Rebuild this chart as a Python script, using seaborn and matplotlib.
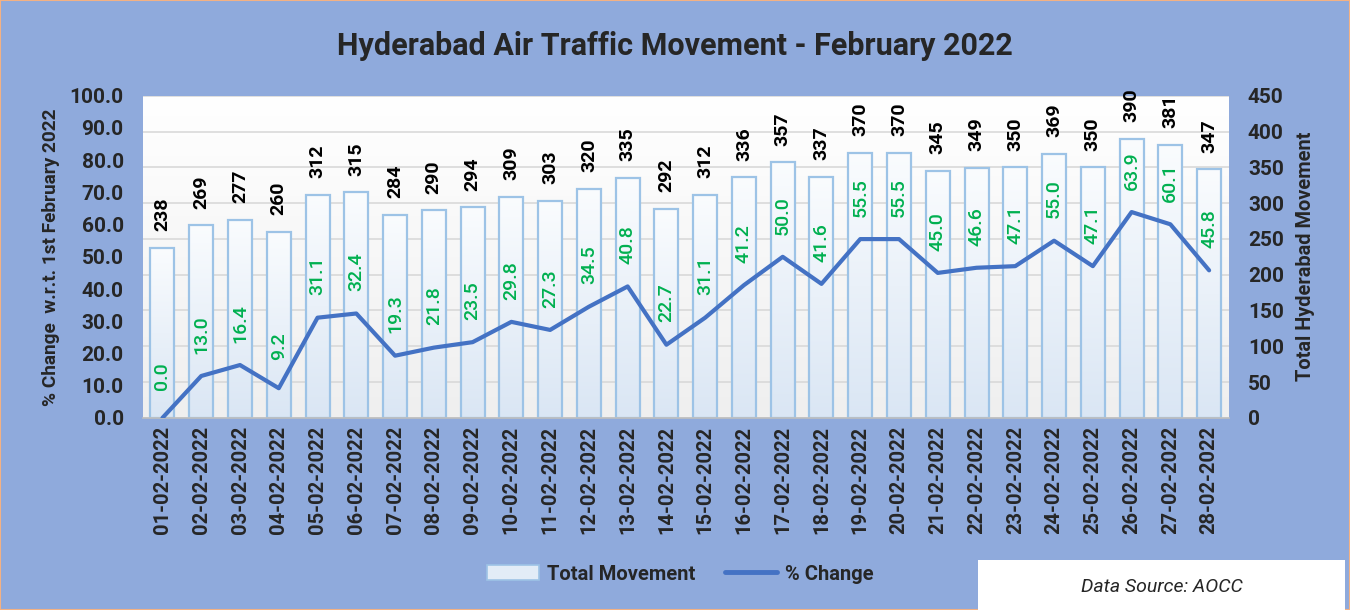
import numpy as np
import seaborn as sns
import matplotlib.pyplot as plt
from matplotlib.patches import Patch, Rectangle
from matplotlib.lines import Line2D


dates = [f"{d:02d}-02-2022" for d in range(1, 29)]
movement = [238, 269, 277, 260, 312, 315, 284, 290, 294, 309, 303, 320, 335, 292,
            312, 336, 357, 337, 370, 370, 345, 349, 350, 369, 350, 390, 381, 347]
pct_change = [0.0, 13.0, 16.4, 9.2, 31.1, 32.4, 19.3, 21.8, 23.5, 29.8, 27.3, 34.5, 40.8, 22.7,
              31.1, 41.2, 50.0, 41.6, 55.5, 55.5, 45.0, 46.6, 47.1, 55.0, 47.1, 63.9, 60.1, 45.8]

BG = "#8FAADC"
LINE = "#4472C4"
GREEN = "#00B050"
BAR_EDGE = "#9DC3E6"

sns.set_style("white")
plt.rcParams["font.family"] = ["Roboto", "DejaVu Sans"]

fig = plt.figure(figsize=(13.5, 6.1), dpi=100, facecolor=BG)
fig.add_artist(Rectangle((0, 0), 1, 1, transform=fig.transFigure, fill=False,
                         edgecolor="#F4B183", linewidth=1.5))

# bars on the main axes (right-hand scale), line on the twin (left-hand scale)
ax = fig.add_axes([0.106, 0.315, 0.804, 0.528])
ax2 = ax.twinx()

sns.barplot(x=dates, y=movement, ax=ax, width=0.62, color="white",
            edgecolor=BAR_EDGE, linewidth=1.6)

# plot-area gradient: white at top -> light grey at bottom
bg = np.linspace(0, 1, 256).reshape(-1, 1)
ax.imshow(bg, extent=[0, 1, 0, 1], transform=ax.transAxes, aspect="auto",
          origin="lower", cmap=sns.blend_palette(["#EFEFEF", "#FFFFFF"], as_cmap=True),
          zorder=-2)

# gradient fill on each bar
grad = np.linspace(0, 1, 256).reshape(-1, 1)
bar_cmap = sns.blend_palette(["#DAE6F4", "#FAFCFE"], as_cmap=True)
for p in ax.patches:
    x0, y0 = p.get_x(), p.get_y()
    w, h = p.get_width(), p.get_height()
    im = ax.imshow(grad, extent=[x0, x0 + w, y0, y0 + h], origin="lower",
                   aspect="auto", cmap=bar_cmap, zorder=1)
    im.set_clip_path(p)
    p.set_facecolor("none")
    p.set_zorder(2)

for i, v in enumerate(movement):
    ax.annotate(str(v), (i, v), xytext=(0, 12), textcoords="offset points",
                rotation=90, ha="center", va="bottom", fontsize=14,
                fontweight="bold", color="black")

sns.lineplot(x=np.arange(len(pct_change)), y=pct_change, ax=ax2, color=LINE,
             linewidth=3)
for i, v in enumerate(pct_change):
    ax2.annotate(f"{v:.1f}", (i, v), xytext=(0, 30), textcoords="offset points",
                 rotation=90, ha="center", va="center", fontsize=14,
                 fontweight="medium", color=GREEN)

ax.set_xlim(-0.5, len(dates) - 0.5)
ax.set_ylim(0, 450)
ax2.set_ylim(0, 100)

ax.yaxis.tick_right()
ax.yaxis.set_label_position("right")
ax2.yaxis.tick_left()
ax2.yaxis.set_label_position("left")

ax.set_yticks(np.arange(0, 451, 50))
ax.set_yticklabels([str(t) for t in range(0, 451, 50)], fontsize=15, fontweight="bold")
ax2.set_yticks(np.arange(0, 101, 10))
ax2.set_yticklabels([f"{t:.1f}" for t in range(0, 101, 10)], fontsize=15, fontweight="bold")

ax.set_axisbelow(True)
ax.yaxis.grid(True, color="#D9D9D9", linewidth=1.2)
ax.xaxis.grid(False)

ax.set_xticks(np.arange(len(dates)))
ax.set_xticklabels(dates, rotation=90, fontsize=14.5, fontweight="bold")
ax.set_xticks(np.arange(-0.5, len(dates), 1), minor=True)
ax.tick_params(axis="x", which="major", length=0, pad=6)
ax.tick_params(axis="x", which="minor", length=5, color="#BFBFBF", width=1.2)
ax.tick_params(axis="y", length=0, pad=14)
ax2.tick_params(axis="y", length=0, pad=14)

for a in (ax, ax2):
    for s in a.spines.values():
        s.set_visible(False)
ax.spines["bottom"].set_visible(True)
ax.spines["bottom"].set_color("#BFBFBF")
ax.spines["bottom"].set_linewidth(1.2)

ax.set_xlabel("")
ax.set_ylabel("Total Hyderabad Movement", fontsize=14.4, fontweight="bold")
ax.yaxis.set_label_coords(1.062, 0.5)
ax2.set_ylabel("% Change  w.r.t. 1st February 2022", fontsize=13.7, fontweight="bold")
ax2.yaxis.set_label_coords(-0.0765, 0.5)

fig.text(0.5, 0.925, "Hyderabad Air Traffic Movement - February 2022", ha="center",
         va="center", fontsize=22, fontweight="bold")

handles = [Patch(facecolor="#E2ECF7", edgecolor=BAR_EDGE, linewidth=1.2),
           Line2D([0], [0], color=LINE, linewidth=3.5)]
fig.legend(handles, ["Total Movement", "% Change"], loc="center",
           bbox_to_anchor=(0.504, 0.059), ncol=2, frameon=False,
           prop={"size": 14.5, "weight": "bold"}, handlelength=2.55,
           handletextpad=0.4, columnspacing=1.5)

fig.add_artist(Rectangle((978 / 1350, 0), 1 - 978 / 1350 - 0.004, 50 / 610,
                         transform=fig.transFigure, facecolor="white",
                         edgecolor="none"))
fig.text(1162 / 1350, 1 - 587 / 610, "Data Source: AOCC", ha="center", va="center",
         fontsize=14, style="italic")

plt.savefig("out.png", dpi=100, facecolor=BG)
plt.close()
